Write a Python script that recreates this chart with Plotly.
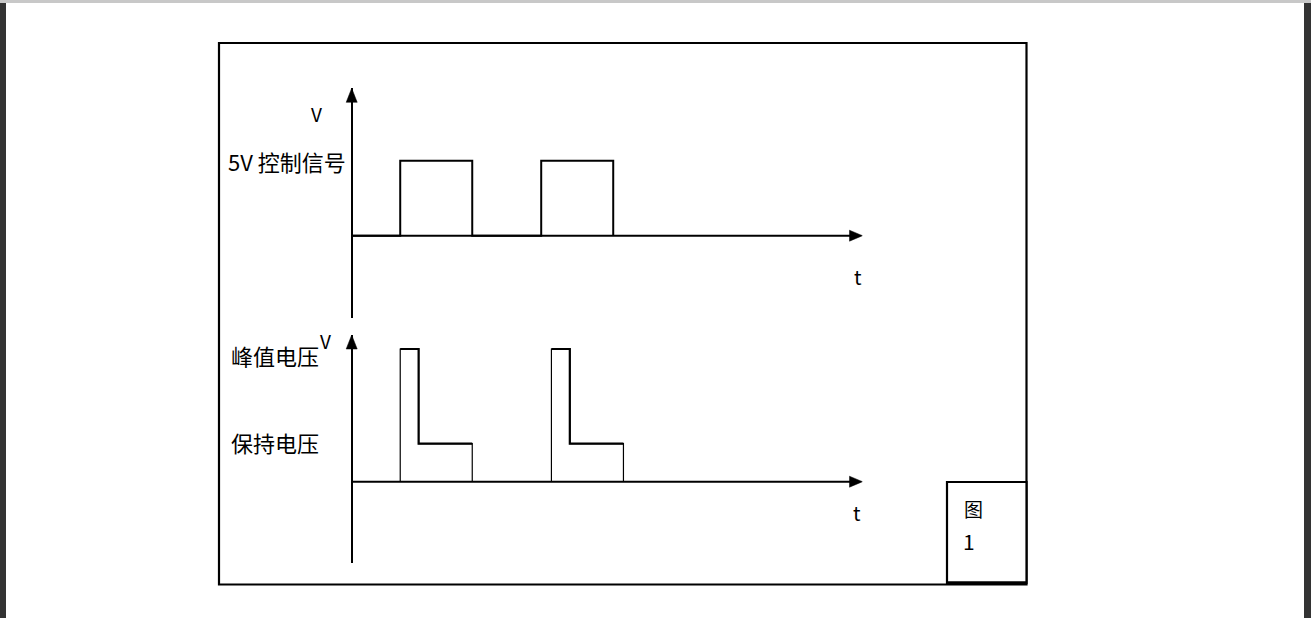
import plotly.graph_objects as go

# ---------------- data ----------------
# upper panel: 5V control signal (time in arbitrary units, voltage in V)
ctrl_t = [0.0, 0.95, 0.95, 2.36, 2.36, 3.71, 3.71, 5.12, 5.12]
ctrl_v = [0, 0, 5, 5, 0, 0, 5, 5, 0]

# lower panel: peak & hold drive voltage
drive_rise = [0.95, 3.91]     # pulse start
drive_drop = [1.31, 4.27]     # end of peak phase
drive_end = [2.36, 5.32]      # end of hold phase
V_PEAK = 12.0
V_HOLD = 3.45

# time axis extent
T_MAX = 10.0

# labels
upper_labels = ["V", "5V 控制信号", "t"]
lower_labels = ["V", "峰值电压", "保持电压", "t"]
fig_label = ["图", "1"]

# ---------------- layout constants (pixels) ----------------
W, H = 1311, 618
AX_X0, AX_X1 = 351.7, 862.5        # vertical axis x / arrow tip x
UP_TOP, UP_BOT, UP_BASE = 88.3, 318.0, 235.7
LO_TOP, LO_BOT, LO_BASE = 335.0, 563.0, 481.7
UP_PX_PER_V = 15.0
LO_PX_PER_V = (LO_BASE - 349.0) / V_PEAK
PX_PER_T = (AX_X1 - AX_X0) / T_MAX
X_PAD = 0.3                        # data units left of the vertical axis


def fx(px):
    return px / W


def fy(py):
    return 1 - py / H


fig = go.Figure()
BLACK = "#000000"

# time axes (horizontal arrows' shafts)
for xr, yr in [("x", "y"), ("x2", "y2")]:
    fig.add_trace(go.Scatter(x=[0, T_MAX - 0.1], y=[0, 0], mode="lines",
                             line=dict(color=BLACK, width=2), xaxis=xr, yaxis=yr,
                             hoverinfo="skip"))

# upper signal
fig.add_trace(go.Scatter(x=ctrl_t, y=ctrl_v, mode="lines",
                         line=dict(color=BLACK, width=2), xaxis="x", yaxis="y",
                         hoverinfo="skip"))

# lower signal: thin outline, thick peak/hold part
for r, d, e in zip(drive_rise, drive_drop, drive_end):
    fig.add_trace(go.Scatter(x=[r, r, d, d, e, e], y=[0, V_PEAK, V_PEAK, V_HOLD, V_HOLD, 0],
                             mode="lines", line=dict(color=BLACK, width=1.2),
                             xaxis="x2", yaxis="y2", hoverinfo="skip"))
    fig.add_trace(go.Scatter(x=[r, d, d, e], y=[V_PEAK, V_PEAK, V_HOLD, V_HOLD],
                             mode="lines", line=dict(color=BLACK, width=2.2),
                             xaxis="x2", yaxis="y2", hoverinfo="skip"))

x_common = dict(showgrid=False, showticklabels=False, ticks="", showline=False,
                zeroline=True, zerolinecolor=BLACK, zerolinewidth=2, fixedrange=True)
y_common = dict(showgrid=False, showticklabels=False, ticks="", showline=False,
                zeroline=False, fixedrange=True)

x_dom = [fx(AX_X0 - X_PAD * PX_PER_T), fx(AX_X1)]

fig.update_layout(
    width=W, height=H,
    margin=dict(l=0, r=0, t=0, b=0),
    paper_bgcolor="white", plot_bgcolor="rgba(0,0,0,0)",
    showlegend=False,
    xaxis=dict(domain=x_dom, range=[-X_PAD, T_MAX], anchor="y", **x_common),
    yaxis=dict(domain=[fy(UP_BOT), fy(UP_TOP)],
               range=[-(UP_BOT - UP_BASE) / UP_PX_PER_V, (UP_BASE - UP_TOP) / UP_PX_PER_V],
               anchor="x", **y_common),
    xaxis2=dict(domain=x_dom, range=[-X_PAD, T_MAX], anchor="y2", **x_common),
    yaxis2=dict(domain=[fy(LO_BOT), fy(LO_TOP)],
                range=[-(LO_BOT - LO_BASE) / LO_PX_PER_V, (LO_BASE - LO_TOP) / LO_PX_PER_V],
                anchor="x2", **y_common),
)

shapes = []
# page decorations: dark side bars, top grey rule
shapes.append(dict(type="rect", xref="paper", yref="paper", x0=0, x1=fx(6), y0=0, y1=1,
                   fillcolor="#333333", line=dict(width=0), layer="above"))
shapes.append(dict(type="rect", xref="paper", yref="paper", x0=fx(1304), x1=1, y0=0, y1=1,
                   fillcolor="#333333", line=dict(width=0), layer="above"))
shapes.append(dict(type="rect", xref="paper", yref="paper", x0=0, x1=1, y0=fy(3), y1=1,
                   fillcolor="#c8c8c8", line=dict(width=0), layer="above"))
# outer frame
shapes.append(dict(type="rect", xref="paper", yref="paper", x0=fx(219), x1=fx(1026.5),
                   y0=fy(584.5), y1=fy(43), line=dict(color=BLACK, width=2.2), layer="below"))
# figure-number box
shapes.append(dict(type="rect", xref="paper", yref="paper", x0=fx(947), x1=fx(1026.5),
                   y0=fy(583), y1=fy(482), fillcolor="white",
                   line=dict(color=BLACK, width=2.2), layer="above"))
shapes.append(dict(type="line", xref="paper", yref="paper", x0=fx(947), x1=fx(1026.5),
                   y0=fy(583), y1=fy(583), line=dict(color=BLACK, width=3.5), layer="above"))

# arrow heads (pixel-sized triangles anchored at axis ends)
for xr, yr, ymax in [("x", "y", (UP_BASE - UP_TOP) / UP_PX_PER_V),
                     ("x2", "y2", (LO_BASE - LO_TOP) / LO_PX_PER_V)]:
    shapes.append(dict(type="path", xref=xr, yref=yr, xsizemode="pixel", ysizemode="pixel",
                       xanchor=0, yanchor=ymax, path="M -5.5 -14 L 5.5 -14 L 0 0 Z",
                       fillcolor=BLACK, line=dict(color=BLACK, width=0.5), layer="above"))
    shapes.append(dict(type="path", xref=xr, yref=yr, xsizemode="pixel", ysizemode="pixel",
                       xanchor=T_MAX, yanchor=0, path="M -13 -5.5 L -13 5.5 L 0 0 Z",
                       fillcolor=BLACK, line=dict(color=BLACK, width=0.5), layer="above"))

fig.update_layout(shapes=shapes)

FONT = "Noto Sans CJK SC"
ann = []
# upper panel labels
ann.append(dict(text=upper_labels[0], xref="x", yref="y", x=0, y=(UP_BASE - 113) / UP_PX_PER_V,
                xshift=-35, showarrow=False, font=dict(family=FONT, size=19, color=BLACK)))
ann.append(dict(text=upper_labels[1], xref="x", yref="y", x=0, y=ctrl_v[2],
                xanchor="right", xshift=-4, showarrow=False,
                font=dict(family=FONT, size=22, color=BLACK)))
ann.append(dict(text=upper_labels[2], xref="x", yref="y", x=T_MAX, y=0,
                xshift=-4, yshift=-41, showarrow=False,
                font=dict(family=FONT, size=20, color=BLACK)))
# lower panel labels
ann.append(dict(text=lower_labels[0], xref="x2", yref="y2", x=0, y=(LO_BASE - 340) / LO_PX_PER_V,
                xshift=-26, showarrow=False, font=dict(family=FONT, size=19, color=BLACK)))
ann.append(dict(text=lower_labels[1], xref="x2", yref="y2", x=0, y=V_PEAK,
                xanchor="right", xshift=-31, yshift=-6, showarrow=False,
                font=dict(family=FONT, size=22, color=BLACK)))
ann.append(dict(text=lower_labels[2], xref="x2", yref="y2", x=0, y=V_HOLD,
                xanchor="right", xshift=-31, yshift=2, showarrow=False,
                font=dict(family=FONT, size=22, color=BLACK)))
ann.append(dict(text=lower_labels[3], xref="x2", yref="y2", x=T_MAX, y=0,
                xshift=-5, yshift=-31, showarrow=False,
                font=dict(family=FONT, size=20, color=BLACK)))
# figure number
ann.append(dict(text=fig_label[0], xref="paper", yref="paper", x=fx(973), y=fy(508),
                xanchor="center", yanchor="middle",
                showarrow=False, font=dict(family=FONT, size=19, color=BLACK)))
ann.append(dict(text=fig_label[1], xref="paper", yref="paper", x=fx(969), y=fy(541),
                xanchor="center", yanchor="middle",
                showarrow=False, font=dict(family=FONT, size=21, color=BLACK)))

fig.update_layout(annotations=ann)

fig.write_html("out.html", config={"displayModeBar": False, "staticPlot": True},
               post_script="document.body.style.margin='0px';document.body.style.overflow='hidden';")
